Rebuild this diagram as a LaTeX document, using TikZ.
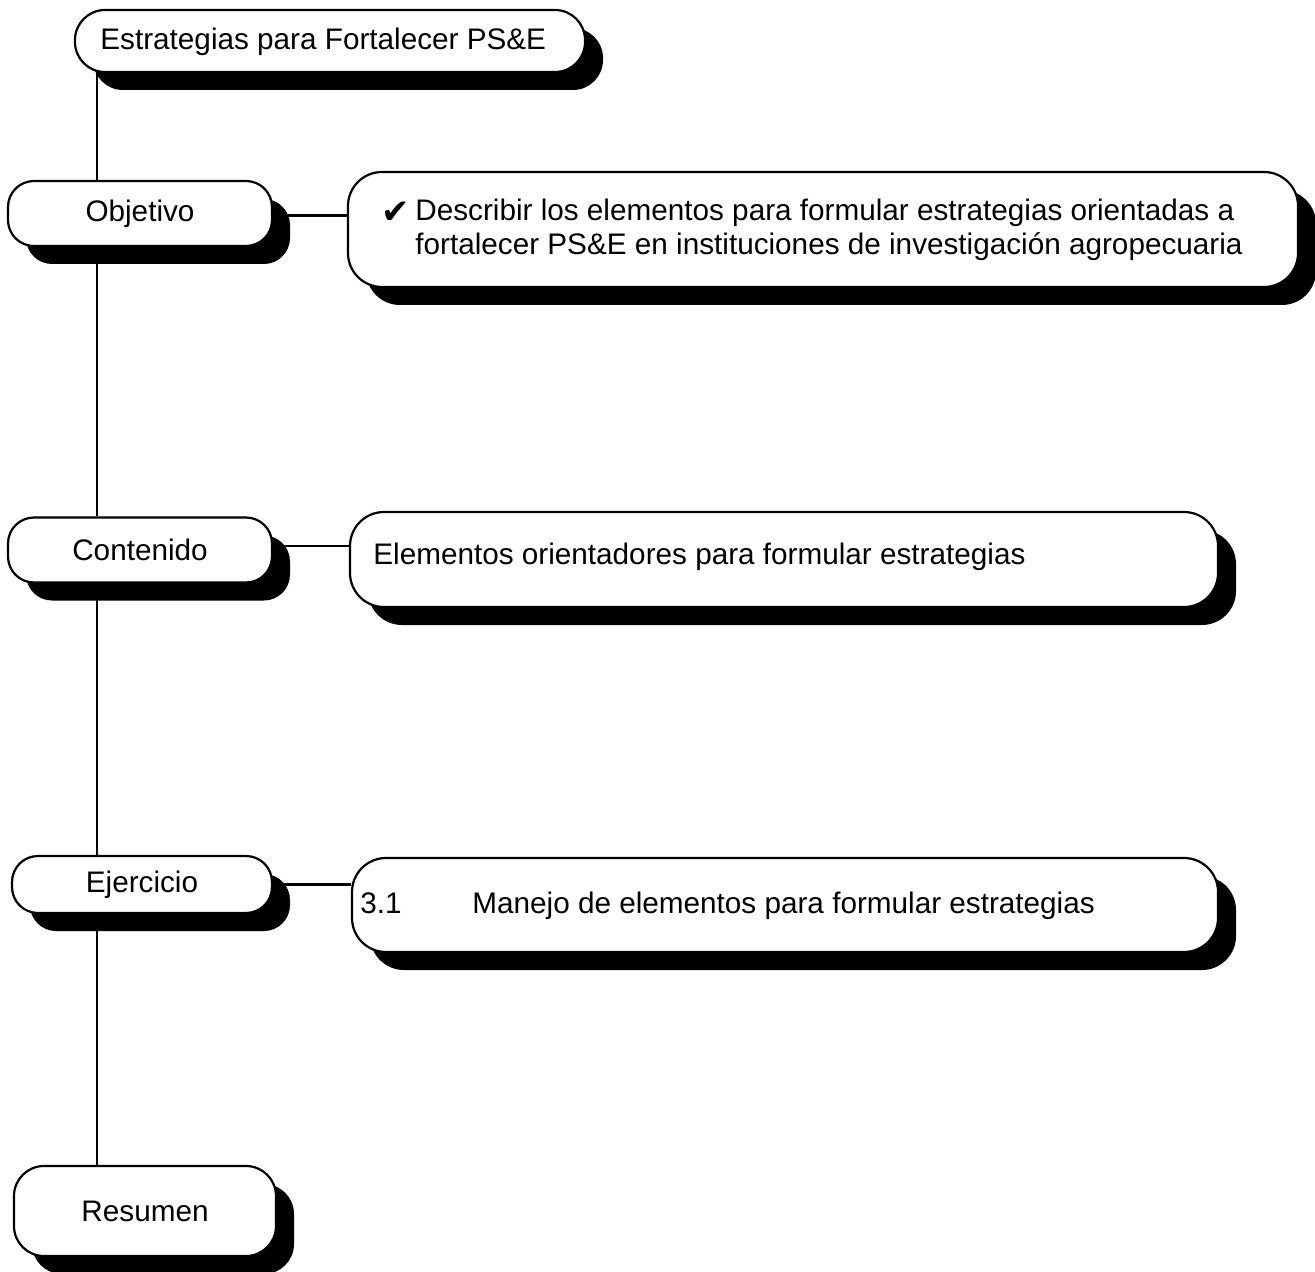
\documentclass[tikz,border=0pt]{standalone}
\usepackage{fontspec}
\setmainfont{Liberation Sans}
\newfontfamily\symfont{DejaVu Sans}
\usetikzlibrary{shadows}
\tikzset{
  boxshape/.style={draw=black, line width=1.1pt, fill=white, rounded corners=#1, inner sep=0pt,
    drop shadow={shadow xshift=9pt, shadow yshift=-9pt, fill=black, opacity=1},
    font=\fontsize{14.85}{17}\selectfont},
  boxshape/.default=12pt,
  txt/.style={inner sep=0pt, font=\fontsize{14.85}{17}\selectfont, anchor=base west},
  conn/.style={draw=black, line width=1.1pt}
}
\begin{document}
\begin{tikzpicture}[x=0.5pt,y=-0.5pt]
\useasboundingbox (0,0) rectangle (1315,1272);
\fill[white] (0,0) rectangle (1315,1272);
\coordinate (spine) at (97,0);
% boxes
\node[boxshape=15pt, minimum width=255pt, minimum height=31pt] (title) at (330,41) {};
\node[boxshape=13pt, minimum width=132pt, minimum height=32.5pt] (objetivo) at (140,213.5) {Objetivo};
\node[boxshape=13pt, minimum width=132pt, minimum height=32.5pt] (contenido) at (140,550) {Contenido};
\node[boxshape=13pt, minimum width=130pt, minimum height=28.5pt] (ejercicio) at (142,884.5) {Ejercicio};
\node[boxshape=15pt, minimum width=131pt, minimum height=45pt] (resumen) at (145,1211) {Resumen};
\node[boxshape=17pt, minimum width=475pt, minimum height=57.5pt] (objtext) at (823,229.5) {};
\node[boxshape=17pt, minimum width=434pt, minimum height=47.5pt] (context) at (784,559.5) {};
\node[boxshape=17pt, minimum width=433pt, minimum height=47pt] (ejertext) at (785,905) {};
% texts
\node[txt] (titletxt) at (100,50) {Estrategias para Fortalecer PS\&E};
\node[txt] (check) at (381,224) {\symfont\fontsize{17}{17}\selectfont ✔};
\node[txt, align=left, anchor=north west] (objbody) at (415,199) {Describir los elementos para formular estrategias orientadas a\\fortalecer PS\&E en instituciones de investigación agropecuaria};
\node[txt] (conbody) at (373,564) {Elementos orientadores para formular estrategias};
\node[txt] (ejnum) at (360,913) {3.1};
\node[txt] (ejbody) at (472,913) {Manejo de elementos para formular estrategias};
% connectors
\draw[conn] ([yshift=-1pt]objetivo.east) -- ([yshift=-1pt]objetivo.east -| objtext.west);
\draw[conn] ([yshift=2pt]contenido.east) -- ([yshift=2pt]contenido.east -| context.west);
\draw[conn] (ejercicio.east) -- (ejercicio.east -| ejertext.west);
\draw[conn] (spine |- title.south) -- (spine |- objetivo.north);
\draw[conn] (spine |- objetivo.south) -- (spine |- contenido.north);
\draw[conn] (spine |- contenido.south) -- (spine |- ejercicio.north);
\draw[conn] (spine |- ejercicio.south) -- (spine |- resumen.north);
\end{tikzpicture}
\end{document}
